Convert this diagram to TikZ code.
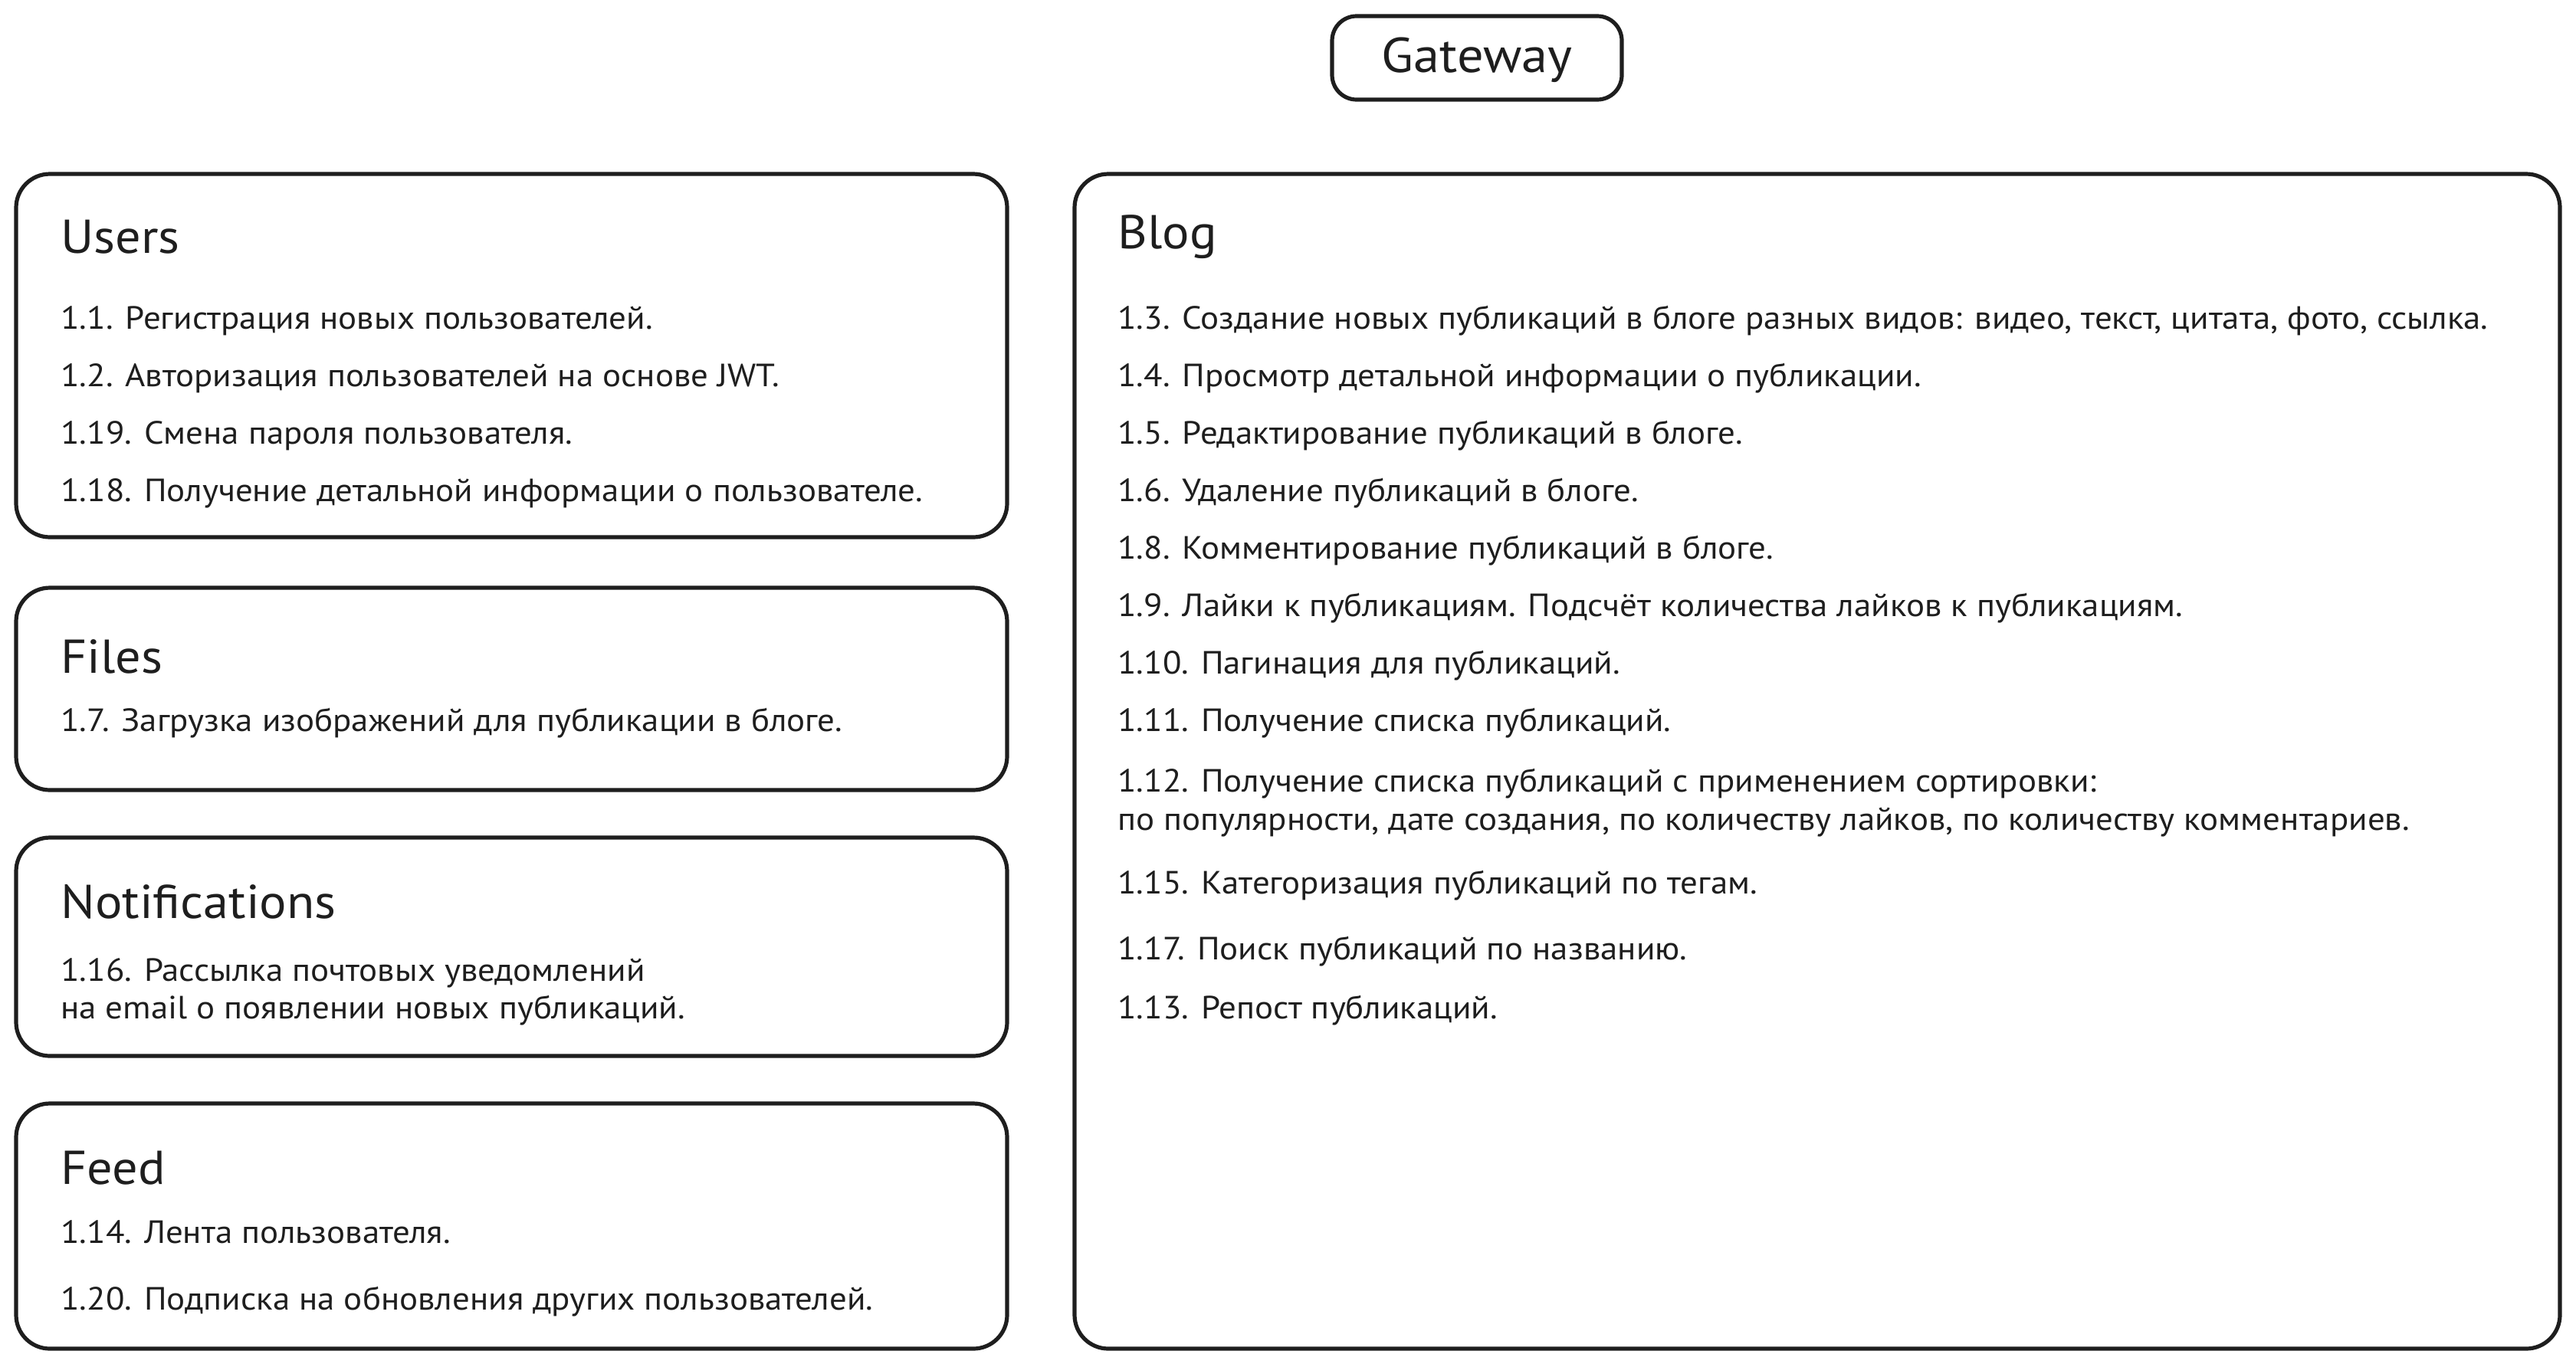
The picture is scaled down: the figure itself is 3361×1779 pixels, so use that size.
\documentclass[tikz,border=0pt]{standalone}
\usepackage{fontspec}
\setmainfont[FakeStretch=1.07]{PT Sans}
\definecolor{ink}{HTML}{1E1E1E}
\tikzset{
  panel/.style={draw=ink, line width=2.6pt, rounded corners=22pt},
  title/.style={anchor=west, inner sep=0pt, text=ink, font=\fontsize{31}{35}\selectfont},
  item/.style={anchor=west, inner sep=0pt, text=ink, font=\fontsize{21}{25}\selectfont},
}
\begin{document}
\begin{tikzpicture}[x=0.5pt,y=-0.5pt]
\useasboundingbox (0,0) rectangle (3361,1779);
% Gateway
\draw[panel, rounded corners=16pt] (1738,21) rectangle (2116,130);
\node[anchor=center, inner sep=0pt, text=ink, font=\fontsize{32}{36}\selectfont] (gw) at (1927,78) {Gateway};
% Users
\draw[panel] (21,227) rectangle (1314,701);
\node[title] (usersT) at (79,309) {Users};
\node[item] (u1) at (79,419) {1.1. Регистрация новых пользователей.};
\node[item] (u2) at (79,494) {1.2. Авторизация пользователей на основе JWT.};
\node[item] (u3) at (79,569) {1.19. Смена пароля пользователя.};
\node[item] (u4) at (79,644) {1.18. Получение детальной информации о пользователе.};
% Files
\draw[panel] (21,767) rectangle (1314,1031);
\node[title] (filesT) at (79,857) {Files};
\node[item] (f1) at (79,944) {1.7. Загрузка изображений для публикации в блоге.};
% Notifications
\draw[panel] (21,1093) rectangle (1314,1378);
\node[title] (notifT) at (79,1177) {Notifications};
\node[item] (n1) at (79,1270) {1.16. Рассылка почтовых уведомлений};
\node[item] (n2) at (79,1319) {на email о появлении новых публикаций.};
% Feed
\draw[panel] (21,1440) rectangle (1314,1760);
\node[title] (feedT) at (79,1524) {Feed};
\node[item] (fd1) at (79,1608) {1.14. Лента пользователя.};
\node[item] (fd2) at (79,1699) {1.20. Подписка на обновления других пользователей.};
% Blog
\draw[panel] (1402,227) rectangle (3340,1760);
\node[title] (blogT) at (1458,309) {Blog};
\node[item] (b1) at (1458,419) {1.3. Создание новых публикаций в блоге разных видов: видео, текст, цитата, фото, ссылка.};
\node[item] (b2) at (1458,494) {1.4. Просмотр детальной информации о публикации.};
\node[item] (b3) at (1458,569) {1.5. Редактирование публикаций в блоге.};
\node[item] (b4) at (1458,644) {1.6. Удаление публикаций в блоге.};
\node[item] (b5) at (1458,719) {1.8. Комментирование публикаций в блоге.};
\node[item] (b6) at (1458,794) {1.9. Лайки к публикациям. Подсчёт количества лайков к публикациям.};
\node[item] (b7) at (1458,869) {1.10. Пагинация для публикаций.};
\node[item] (b8) at (1458,944) {1.11. Получение списка публикаций.};
\node[item] (b9) at (1458,1023) {1.12. Получение списка публикаций с применением сортировки:};
\node[item] (b10) at (1458,1073) {по популярности, дате создания, по количеству лайков, по количеству комментариев.};
\node[item] (b11) at (1458,1156) {1.15. Категоризация публикаций по тегам.};
\node[item] (b12) at (1458,1242) {1.17. Поиск публикаций по названию.};
\node[item] (b13) at (1458,1319) {1.13. Репост публикаций.};
\end{tikzpicture}
\end{document}
